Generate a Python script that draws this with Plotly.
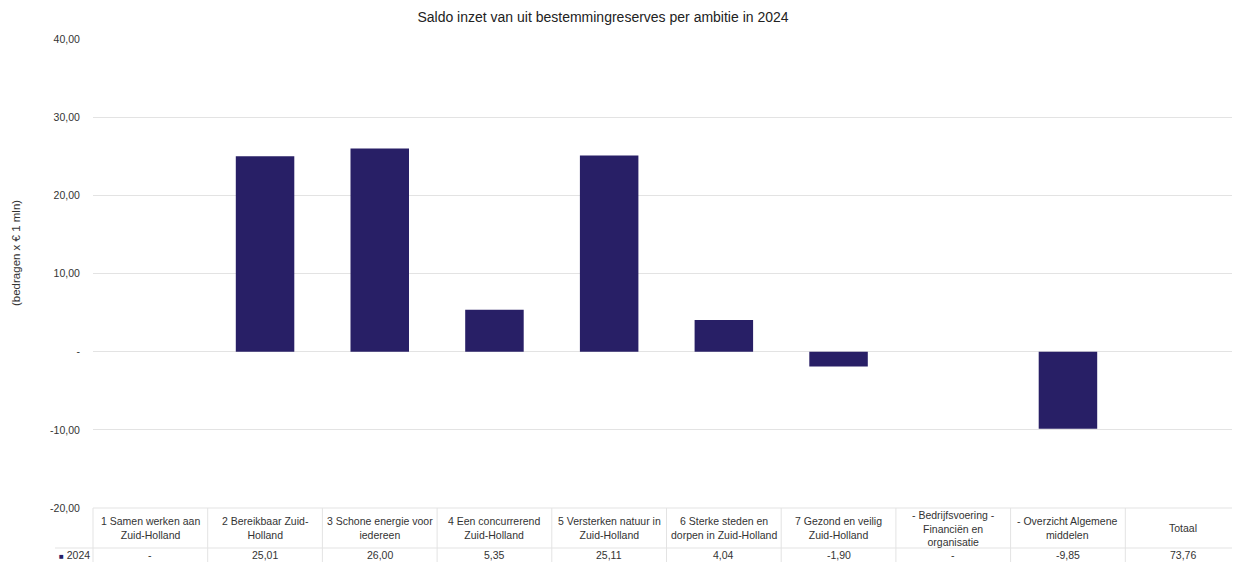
import plotly.graph_objects as go

categories = [
    "1 Samen werken aan<br>Zuid-Holland",
    "2 Bereikbaar Zuid-<br>Holland",
    "3 Schone energie voor<br>iedereen",
    "4 Een concurrerend<br>Zuid-Holland",
    "5 Versterken natuur in<br>Zuid-Holland",
    "6 Sterke steden en<br>dorpen in Zuid-Holland",
    "7 Gezond en veilig<br>Zuid-Holland",
    "- Bedrijfsvoering -<br>Financiën en<br>organisatie",
    "- Overzicht Algemene<br>middelen",
    "Totaal",
]
values_2024 = [0, 25.01, 26.00, 5.35, 25.11, 4.04, -1.90, 0, -9.85, 73.76]
bar_values = values_2024[:-1] + [None]  # Totaal not drawn as a bar
series_name = "2024"
tick_vals = [40, 30, 20, 10, 0, -10, -20]
tick_text = ["40,00", "30,00", "20,00", "10,00", "-", "-10,00", "-20,00"]

BAR = "#281f66"
GRID = "#e3e3e3"
TXT = "#333333"
FONT = "Liberation Sans, Arial, sans-serif"

OFF = 8  # page body margin offset in the browser
W, H = 1240 - OFF, 562 - OFF
PL, PR, PT, PB = 93, 1240, 39, 508  # plot area in viewport pixels
L, R, T = PL - OFF, 0, PT - OFF
B = H - (PB - OFF)
PW, PH = PR - PL, PB - PT

def py(p):
    return (PB - p) / PH

def px(p):
    return (p - PL) / PW

def fmt(v):
    if v == 0:
        return "-"
    return f"{v:.2f}".replace(".", ",")

fig = go.Figure()
fig.add_trace(go.Bar(
    x=categories, y=bar_values, name=series_name,
    marker=dict(color=BAR, line=dict(width=0)),
    hoverinfo="skip",
))

shapes = []
shapes.append(dict(type="line", xref="paper", yref="paper", x0=0, x1=1, y0=py(508), y1=py(508),
                   line=dict(color=GRID, width=1)))
shapes.append(dict(type="line", xref="paper", yref="paper", x0=px(55), x1=1,
                   y0=py(548), y1=py(548), line=dict(color=GRID, width=1)))
n = len(categories)
for i in range(n + 1):
    xp = i / n
    shapes.append(dict(type="line", xref="paper", yref="paper", x0=xp, x1=xp,
                       y0=py(508), y1=py(570), line=dict(color=GRID, width=1)))

annotations = []
for c, v in zip(categories, values_2024):
    annotations.append(dict(x=c, xref="x", y=py(528), yref="paper", text=c, showarrow=False,
                            font=dict(size=10.5, color=TXT, family=FONT), align="center",
                            yanchor="middle", xanchor="center"))
    annotations.append(dict(x=c, xref="x", y=py(555), yref="paper", text=fmt(v), showarrow=False,
                            font=dict(size=10.5, color=TXT, family=FONT), yanchor="middle",
                            xanchor="center"))
annotations.append(dict(x=px(57), xref="paper", y=py(555), yref="paper",
                        text=f"<span style='color:{BAR};font-size:8px'>■</span> {series_name}",
                        showarrow=False,
                        font=dict(size=10.5, color=TXT, family=FONT), xanchor="left", yanchor="middle"))
annotations.append(dict(x=px(16), xref="paper", y=py(253), yref="paper", text="(bedragen x € 1 mln)",
                        showarrow=False, textangle=-90, font=dict(size=11.5, color=TXT, family=FONT),
                        xanchor="center", yanchor="middle"))

fig.update_layout(
    width=W, height=H,
    margin=dict(l=L, r=R, t=T, b=B),
    paper_bgcolor="white", plot_bgcolor="white",
    title=dict(text="Saldo inzet van uit bestemmingreserves per ambitie in 2024",
               x=(603 - OFF) / W, xref="container", xanchor="center",
               y=1 - (17 - OFF) / H, yref="container", yanchor="middle",
               font=dict(size=14, color="#222222", family=FONT)),
    showlegend=False,
    bargap=0.49,
    font=dict(family=FONT, color=TXT),
    shapes=shapes,
    annotations=annotations,
)
fig.update_xaxes(showticklabels=False, showgrid=False, zeroline=False, showline=False,
                 range=[-0.5, n - 0.5])
fig.update_yaxes(range=[-20, 40], tickvals=tick_vals, ticktext=tick_text,
                 showgrid=True, gridcolor=GRID, gridwidth=1, zeroline=True, zerolinecolor=GRID,
                 zerolinewidth=1, showline=False, ticks="outside", ticklen=10, tickcolor="white",
                 tickfont=dict(size=10.5, color=TXT, family=FONT))

fig.write_html("out.html")
